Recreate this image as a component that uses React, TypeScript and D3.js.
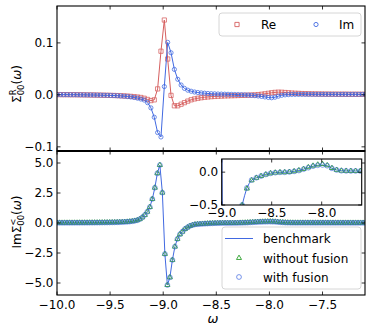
import React from 'react';
import * as d3 from 'd3';

// omega grids (evenly spaced, start + step)
const topStart = -10;
const topStep = 3 / 95;
const botStart = -10;
const botStep = 3 / 127;

// upper panel: retarded self energy
const sigmaRe = [
  0.0005, 0.0005, 0.0004, 0.0004, 0.0003, 0.0003, 0.0002, 0.0001, 0.0, -0.0001,
  -0.0002, -0.0003, -0.0004, -0.0005, -0.0007, -0.0008, -0.001, -0.0012, -0.0014, -0.0017,
  -0.002, -0.0024, -0.0029, -0.0035, -0.0042, -0.005, -0.0065, -0.0088, -0.011, -0.0096,
  0.0115, 0.084, 0.144, 0.069, -0.001, -0.021, -0.021, -0.018, -0.015, -0.012,
  -0.0095, -0.0078, -0.0065, -0.0055, -0.0046, -0.004, -0.0034, -0.003, -0.0026, -0.0023,
  -0.002, -0.0018, -0.0016, -0.0014, -0.0012, -0.001, -0.0008, -0.0006, -0.0003, 0.0,
  0.0005, 0.0012, 0.002, 0.003, 0.004, 0.0048, 0.0052, 0.005, 0.0045, 0.004,
  0.0035, 0.0031, 0.0028, 0.0025, 0.0023, 0.0021, 0.0019, 0.0018, 0.0017, 0.0016,
  0.0015, 0.0015, 0.0014, 0.0014, 0.0013, 0.0013, 0.0013, 0.0012, 0.0012, 0.0012,
  0.0012, 0.0011, 0.0011, 0.0011, 0.0011, 0.001,
];
const sigmaIm = [
  0.0005, 0.0005, 0.0004, 0.0004, 0.0003, 0.0003, 0.0002, 0.0001, 0.0, -0.0001,
  -0.0002, -0.0003, -0.0004, -0.0006, -0.0007, -0.0009, -0.0011, -0.0014, -0.0017, -0.0021,
  -0.0026, -0.0032, -0.004, -0.005, -0.0063, -0.008, -0.01, -0.015, -0.025, -0.043,
  -0.0725, -0.081, 0.016, 0.101, 0.081, 0.049, 0.03, 0.019, 0.0125, 0.009,
  0.007, 0.0055, 0.0045, 0.0038, 0.0032, 0.0027, 0.0023, 0.002, 0.0017, 0.0015,
  0.0013, 0.0011, 0.0009, 0.0007, 0.0005, 0.0003, 0.0, -0.0004, -0.0009, -0.0015,
  -0.0022, -0.003, -0.004, -0.005, -0.0055, -0.0045, -0.0025, -0.0008, 0.0, 0.0005,
  0.0008, 0.0009, 0.001, 0.001, 0.001, 0.001, 0.001, 0.001, 0.001, 0.001,
  0.001, 0.001, 0.001, 0.001, 0.001, 0.001, 0.001, 0.001, 0.001, 0.001,
  0.001, 0.001, 0.001, 0.001, 0.001, 0.001,
];

// lower panel: lesser self energy
const benchmark = [
  0.015, 0.016, 0.016, 0.017, 0.018, 0.018, 0.019, 0.02, 0.021, 0.022,
  0.023, 0.024, 0.025, 0.027, 0.028, 0.03, 0.032, 0.034, 0.036, 0.039,
  0.042, 0.045, 0.049, 0.054, 0.06, 0.067, 0.076, 0.087, 0.101, 0.12,
  0.145, 0.18, 0.23, 0.32,
  0.47, 0.67, 0.94, 1.33, 2.0, 2.94, 4.14, 4.83, 2.53, -2.58, -5.17, -4.53, -3.08, -1.97, -1.33, -0.94, -0.72,
  -0.5, -0.36, -0.24, -0.17, -0.12, -0.1, -0.085, -0.072, -0.059, -0.046,
  -0.035, -0.025, -0.018, -0.012, -0.008, -0.005, -0.003, -0.002, -0.002, 0.0,
  0.003, 0.007, 0.012, 0.018, 0.025, 0.033, 0.045, 0.058, 0.068, 0.08,
  0.09, 0.098, 0.104, 0.108, 0.109, 0.104, 0.098, 0.08, 0.058, 0.045,
  0.033, 0.027, 0.022, 0.02,
  0.019, 0.018, 0.018, 0.018, 0.018, 0.018, 0.017, 0.017, 0.017, 0.017,
  0.016, 0.016, 0.016, 0.016, 0.015, 0.015, 0.015, 0.015, 0.014, 0.014,
  0.014, 0.014, 0.013, 0.013, 0.013, 0.013, 0.012, 0.012, 0.012, 0.012,
  0.011, 0.011, 0.011,
];
const withoutFusion = [
  0.015, 0.016, 0.016, 0.017, 0.018, 0.018, 0.019, 0.02, 0.021, 0.022,
  0.023, 0.024, 0.025, 0.027, 0.028, 0.03, 0.032, 0.034, 0.036, 0.039,
  0.042, 0.045, 0.049, 0.054, 0.06, 0.067, 0.076, 0.087, 0.101, 0.12,
  0.145, 0.18, 0.23, 0.32,
  0.47, 0.67, 0.94, 1.33, 2.0, 2.94, 4.14, 4.83, 2.53, -2.58, -5.17, -4.53, -3.08, -1.97, -1.33, -0.94, -0.72,
  -0.5, -0.37, -0.25, -0.18, -0.125, -0.1, -0.087, -0.073, -0.06, -0.047,
  -0.036, -0.026, -0.018, -0.012, -0.008, -0.005, -0.003, -0.002, -0.002, 0.0,
  0.003, 0.008, 0.013, 0.019, 0.027, 0.036, 0.048, 0.062, 0.074, 0.086,
  0.097, 0.106, 0.114, 0.12, 0.122, 0.116, 0.104, 0.084, 0.062, 0.047,
  0.034, 0.027, 0.022, 0.02,
  0.019, 0.018, 0.018, 0.018, 0.018, 0.018, 0.017, 0.017, 0.017, 0.017,
  0.016, 0.016, 0.016, 0.016, 0.015, 0.015, 0.015, 0.015, 0.014, 0.014,
  0.014, 0.014, 0.013, 0.013, 0.013, 0.013, 0.012, 0.012, 0.012, 0.012,
  0.011, 0.011, 0.011,
];
const withFusion = benchmark;

const xTicks = [-10, -9.5, -9, -8.5, -8, -7.5];
const topYTicks = [-0.1, 0, 0.1];
const botYTicks = [-5, -2.5, 0, 2.5, 5];
const insetXTicks = [-9, -8.5, -8];
const insetYTicks = [-0.5, 0];

const RED = '#d65f5f';
const BLUE = '#4169e1';
const GREEN = '#2ca02c';
const FONT = 'DejaVu Sans, sans-serif';
const fmt = d3.format('.1f');

type Pt = [number, number];

export default function App() {
  const L = 57, R = 365, T = 6, M = 151, B = 295;
  const x = d3.scaleLinear().domain([-10, -7.1]).range([L, R]);
  const yTop = d3.scaleLinear().domain([-0.108, 0.171]).range([M, T]);
  const yBot = d3.scaleLinear().domain([-6, 6]).range([B, M]);
  const IL = 221.7, IR = 361.7, IT = 159, IB = 205;
  const xi = d3.scaleLinear().domain([-9, -7.6]).range([IL, IR]);
  const yi = d3.scaleLinear().domain([-0.5, 0.2]).range([IB, IT]);

  const rePts: Pt[] = sigmaRe.map((v, i) => [topStart + i * topStep, v]);
  const imPts: Pt[] = sigmaIm.map((v, i) => [topStart + i * topStep, v]);
  const benchPts: Pt[] = benchmark.map((v, i) => [botStart + i * botStep, v]);
  const woPts: Pt[] = withoutFusion.map((v, i) => [botStart + i * botStep, v]);
  const wPts: Pt[] = withFusion.map((v, i) => [botStart + i * botStep, v]);

  const lineTop = d3.line<Pt>().x(d => x(d[0])).y(d => yTop(d[1]));
  const lineBot = d3.line<Pt>().x(d => x(d[0])).y(d => yBot(d[1]));
  const lineIn = d3.line<Pt>().x(d => xi(d[0])).y(d => yi(d[1]));

  const square = d3.symbol().type(d3.symbolSquare).size(18)()!;
  const tri = d3.symbol().type(d3.symbolTriangle).size(11)()!;

  const tk = 3.5;
  const inWin = (p: Pt) => p[0] >= -9.1 && p[0] <= -7.5;
  const inPts = (arr: Pt[]) => arr.filter((p, i) => i % 2 === 1 && inWin(p));

  return (
    <svg width={374} height={334} style={{ position: 'absolute', left: 0, top: 0 }} fontFamily={FONT}>
      <defs>
        <clipPath id="cTop"><rect x={L} y={T} width={R - L} height={M - T} /></clipPath>
        <clipPath id="cBot"><rect x={L} y={M} width={R - L} height={B - M} /></clipPath>
        <clipPath id="cIn"><rect x={IL} y={IT} width={IR - IL} height={IB - IT} /></clipPath>
      </defs>
      <rect width={374} height={334} fill="#fff" />

      {/* upper panel */}
      <g clipPath="url(#cTop)">
        <path d={lineTop(rePts)!} fill="none" stroke={RED} strokeWidth={1} />
        {rePts.map((p, i) => (
          <path key={'r' + i} d={square} transform={`translate(${x(p[0])},${yTop(p[1])})`}
            fill="none" stroke={RED} strokeWidth={0.9} opacity={0.85} />
        ))}
        <path d={lineTop(imPts)!} fill="none" stroke={BLUE} strokeWidth={1} />
        {imPts.map((p, i) => (
          <circle key={'i' + i} cx={x(p[0])} cy={yTop(p[1])} r={2.1}
            fill="none" stroke={BLUE} strokeWidth={0.9} opacity={0.85} />
        ))}
      </g>

      {/* lower panel */}
      <g clipPath="url(#cBot)">
        <path d={lineBot(benchPts)!} fill="none" stroke={BLUE} strokeWidth={1} />
        {woPts.map((p, i) => (
          <path key={'t' + i} d={tri} transform={`translate(${x(p[0])},${yBot(p[1])})`}
            fill="none" stroke={GREEN} strokeWidth={0.9} />
        ))}
        {wPts.map((p, i) => (
          <circle key={'c' + i} cx={x(p[0])} cy={yBot(p[1])} r={2.4}
            fill="none" stroke={BLUE} strokeWidth={1} opacity={0.6} />
        ))}
      </g>

      {/* ticks, main axes */}
      <g stroke="#000" strokeWidth={0.8}>
        {xTicks.map(t => (
          <g key={'xt' + t}>
            <line x1={x(t)} x2={x(t)} y1={T} y2={T + tk} />
            <line x1={x(t)} x2={x(t)} y1={M} y2={M - tk} />
            <line x1={x(t)} x2={x(t)} y1={M} y2={M + tk} />
            <line x1={x(t)} x2={x(t)} y1={B} y2={B - tk} />
          </g>
        ))}
        {topYTicks.map(t => (
          <g key={'ty' + t}>
            <line x1={L} x2={L + tk} y1={yTop(t)} y2={yTop(t)} />
            <line x1={R} x2={R - tk} y1={yTop(t)} y2={yTop(t)} />
          </g>
        ))}
        {botYTicks.map(t => (
          <g key={'by' + t}>
            <line x1={L} x2={L + tk} y1={yBot(t)} y2={yBot(t)} />
            <line x1={R} x2={R - tk} y1={yBot(t)} y2={yBot(t)} />
          </g>
        ))}
      </g>
      <g fontSize={12} fill="#000">
        {xTicks.map(t => (
          <text key={'xl' + t} x={x(t)} y={308.5} textAnchor="middle">{fmt(t)}</text>
        ))}
        {topYTicks.map(t => (
          <text key={'tyl' + t} x={L - 3.5} y={yTop(t) + 4.3} textAnchor="end">{fmt(t)}</text>
        ))}
        {botYTicks.map(t => (
          <text key={'byl' + t} x={L - 3.5} y={yBot(t) + 4.3} textAnchor="end">{fmt(t)}</text>
        ))}
      </g>

      {/* inset */}
      <rect x={IL} y={IT} width={IR - IL} height={IB - IT} fill="#fff" />
      <g clipPath="url(#cIn)">
        <path d={lineIn(benchPts.filter(inWin))!} fill="none" stroke={BLUE} strokeWidth={1} />
        {inPts(woPts).map((p, i) => (
          <path key={'it' + i} d={tri} transform={`translate(${xi(p[0])},${yi(p[1])})`}
            fill="none" stroke={GREEN} strokeWidth={0.9} />
        ))}
        {inPts(wPts).map((p, i) => (
          <circle key={'ic' + i} cx={xi(p[0])} cy={yi(p[1])} r={2.4}
            fill="none" stroke={BLUE} strokeWidth={1} opacity={0.6} />
        ))}
      </g>
      <g stroke="#000" strokeWidth={0.8}>
        {insetXTicks.map(t => (
          <g key={'ixt' + t}>
            <line x1={xi(t)} x2={xi(t)} y1={IT} y2={IT + tk} />
            <line x1={xi(t)} x2={xi(t)} y1={IB} y2={IB - tk} />
          </g>
        ))}
        {insetYTicks.map(t => (
          <g key={'iyt' + t}>
            <line x1={IL} x2={IL + tk} y1={yi(t)} y2={yi(t)} />
            <line x1={IR} x2={IR - tk} y1={yi(t)} y2={yi(t)} />
          </g>
        ))}
      </g>
      <rect x={IL} y={IT} width={IR - IL} height={IB - IT} fill="none" stroke="#000" strokeWidth={1.1} />
      <g fontSize={12} fill="#000">
        {insetXTicks.map(t => (
          <text key={'ixl' + t} x={xi(t)} y={216.5} textAnchor="middle">{fmt(t)}</text>
        ))}
        {insetYTicks.map(t => (
          <text key={'iyl' + t} x={IL - 3.5} y={yi(t) + 4.3} textAnchor="end">{fmt(t)}</text>
        ))}
      </g>

      {/* frames */}
      <rect x={L} y={T} width={R - L} height={M - T} fill="none" stroke="#000" strokeWidth={1.1} />
      <rect x={L} y={M} width={R - L} height={B - M} fill="none" stroke="#000" strokeWidth={1.1} />
      <line x1={L} x2={R} y1={M} y2={M} stroke="#000" strokeWidth={2} />

      {/* legends */}
      <rect x={219} y={13} width={142} height={23} rx={3} fill="#fff" fillOpacity={0.8} stroke="#ccc" strokeWidth={0.8} />
      <path d={square} transform="translate(237,24.5)" fill="none" stroke={RED} strokeWidth={0.9} />
      <text x={261} y={29} fontSize={12}>Re</text>
      <circle cx={316} cy={24.5} r={2.1} fill="none" stroke={BLUE} strokeWidth={0.9} />
      <text x={339} y={29} fontSize={12}>Im</text>

      <rect x={222} y={227} width={139} height={62} rx={3} fill="#fff" fillOpacity={0.8} stroke="#ccc" strokeWidth={0.8} />
      <line x1={225} x2={253} y1={238.5} y2={238.5} stroke={BLUE} strokeWidth={1} />
      <text x={263} y={243} fontSize={12}>benchmark</text>
      <path d={tri} transform="translate(239,258)" fill="none" stroke={GREEN} strokeWidth={0.9} />
      <text x={263} y={262.5} fontSize={12}>without fusion</text>
      <circle cx={239} cy={277} r={2.4} fill="none" stroke={BLUE} strokeWidth={1} opacity={0.7} />
      <text x={263} y={281.5} fontSize={12}>with fusion</text>

      {/* axis labels */}
      <text x={213} y={323} fontSize={13} fontStyle="italic" textAnchor="middle">ω</text>
      <text transform="translate(21,84) rotate(-90)" fontSize={12} textAnchor="middle">
        <tspan>Σ</tspan>
        <tspan fontSize={8.5} dy={-5}>R</tspan>
        <tspan fontSize={8.5} dx={-5.9} dy={8}>00</tspan>
        <tspan dy={-3}>(</tspan>
        <tspan fontStyle="italic">ω</tspan>
        <tspan>)</tspan>
      </text>
      <text transform="translate(21,222) rotate(-90)" fontSize={12} textAnchor="middle">
        <tspan>ImΣ</tspan>
        <tspan fontSize={8.5} dy={-5}>&lt;</tspan>
        <tspan fontSize={8.5} dx={-7.1} dy={8}>00</tspan>
        <tspan dy={-3}>(</tspan>
        <tspan fontStyle="italic">ω</tspan>
        <tspan>)</tspan>
      </text>
    </svg>
  );
}
